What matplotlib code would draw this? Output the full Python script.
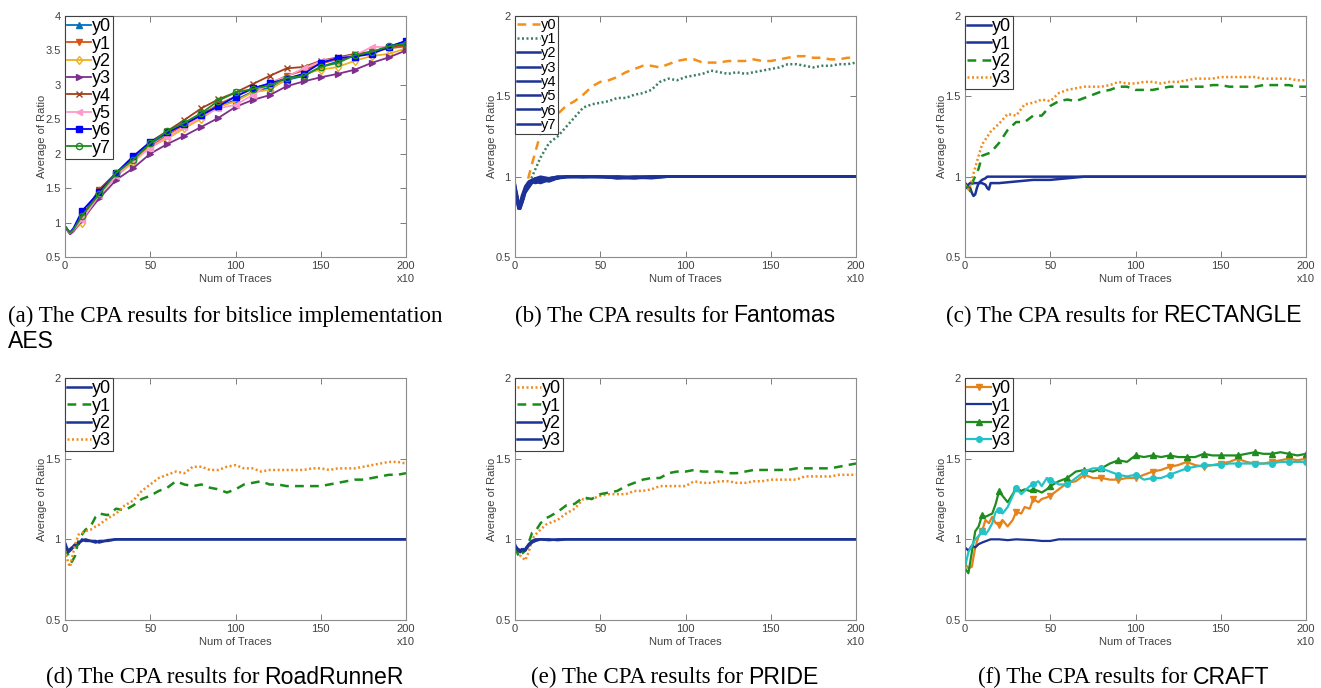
import matplotlib
matplotlib.use("Agg")
import matplotlib.pyplot as plt
from matplotlib.ticker import FormatStrFormatter

plt.rcParams["font.family"] = ["Liberation Sans", "DejaVu Sans"]

# ---- panel (a): bitslice AES ----
xa = [0, 2, 3, 5, 10, 20, 30, 40, 50, 60, 70, 80, 90, 100, 110, 120, 130, 140, 150, 160, 170, 180, 190, 200]
a_y0 = [0.95, 0.88, 0.85, 0.90, 1.11, 1.43, 1.71, 1.92, 2.14, 2.30, 2.43, 2.59, 2.68, 2.78, 2.90, 2.96, 3.07, 3.13, 3.26, 3.34, 3.43, 3.47, 3.56, 3.63]
a_y1 = [0.94, 0.87, 0.84, 0.89, 1.09, 1.47, 1.69, 1.92, 2.10, 2.27, 2.42, 2.56, 2.72, 2.83, 2.94, 3.02, 3.13, 3.21, 3.31, 3.37, 3.43, 3.48, 3.53, 3.56]
a_y2 = [0.95, 0.87, 0.84, 0.88, 1.00, 1.40, 1.67, 1.88, 2.10, 2.22, 2.37, 2.51, 2.68, 2.76, 2.89, 2.93, 3.08, 3.16, 3.22, 3.26, 3.35, 3.42, 3.45, 3.53]
a_y3 = [0.94, 0.86, 0.83, 0.87, 1.04, 1.35, 1.62, 1.79, 2.00, 2.14, 2.26, 2.39, 2.52, 2.68, 2.78, 2.85, 2.98, 3.05, 3.11, 3.16, 3.22, 3.32, 3.40, 3.50]
a_y4 = [0.95, 0.88, 0.85, 0.90, 1.08, 1.48, 1.72, 1.96, 2.17, 2.33, 2.49, 2.66, 2.79, 2.89, 3.01, 3.13, 3.24, 3.26, 3.35, 3.40, 3.45, 3.48, 3.55, 3.58]
a_y5 = [0.95, 0.87, 0.85, 0.89, 1.04, 1.40, 1.67, 1.91, 2.08, 2.25, 2.39, 2.54, 2.66, 2.71, 2.85, 3.03, 3.12, 3.24, 3.34, 3.39, 3.43, 3.55, 3.55, 3.63]
a_y6 = [0.95, 0.88, 0.86, 0.92, 1.17, 1.44, 1.72, 1.96, 2.17, 2.31, 2.43, 2.56, 2.69, 2.83, 2.95, 3.02, 3.09, 3.16, 3.32, 3.39, 3.41, 3.45, 3.55, 3.64]
a_y7 = [0.95, 0.88, 0.85, 0.90, 1.10, 1.41, 1.72, 1.91, 2.15, 2.33, 2.45, 2.59, 2.77, 2.89, 2.94, 2.99, 3.10, 3.13, 3.26, 3.32, 3.43, 3.48, 3.56, 3.60]

# ---- panel (b): Fantomas ----
xb = [0, 2, 3, 5, 8, 10, 15, 20, 25, 30, 35, 40, 45, 50, 55, 60, 65, 70, 75, 80, 85, 90, 95, 100,
      105, 110, 115, 120, 125, 130, 135, 140, 145, 150, 155, 160, 165, 170, 175, 180, 185, 190, 195, 200]
b_y0 = [0.92, 0.86, 0.82, 0.88, 1.00, 1.08, 1.27, 1.36, 1.39, 1.44, 1.47, 1.51, 1.56, 1.59, 1.60, 1.62, 1.65, 1.67, 1.69, 1.69, 1.68, 1.70,
        1.72, 1.73, 1.73, 1.71, 1.71, 1.71, 1.72, 1.72, 1.72, 1.73, 1.72, 1.72, 1.73, 1.74, 1.75, 1.75, 1.74, 1.74, 1.73, 1.73, 1.74, 1.74]
b_y1 = [0.92, 0.84, 0.81, 0.88, 0.95, 1.00, 1.12, 1.21, 1.25, 1.31, 1.37, 1.43, 1.45, 1.46, 1.47, 1.49, 1.49, 1.51, 1.52, 1.54, 1.59, 1.61,
        1.60, 1.62, 1.63, 1.64, 1.66, 1.65, 1.64, 1.65, 1.64, 1.65, 1.66, 1.67, 1.68, 1.70, 1.70, 1.69, 1.68, 1.69, 1.69, 1.70, 1.70, 1.71]
xb_blue = [0, 1, 2, 3, 4, 5, 6, 8, 10, 12, 15, 20, 25, 30, 40, 50, 60, 70, 80, 90, 100, 120, 140, 160, 180, 200]
b_y2 = [0.95, 0.90, 0.84, 0.80, 0.83, 0.87, 0.90, 0.93, 0.96, 0.97, 0.98, 0.99, 0.995, 1.0, 1.0, 1.0, 0.995, 0.995, 1.0, 1.0, 1.0, 1.0, 1.0, 1.0, 1.0, 1.0]
b_y3 = [0.93, 0.88, 0.82, 0.81, 0.85, 0.88, 0.91, 0.95, 0.97, 0.96, 0.97, 0.98, 0.99, 1.0, 1.0, 1.0, 0.99, 0.99, 0.995, 1.0, 1.0, 1.0, 1.0, 1.0, 1.0, 1.0]
b_y4 = [0.95, 0.86, 0.80, 0.82, 0.86, 0.90, 0.92, 0.96, 0.98, 0.99, 0.98, 0.97, 0.99, 0.995, 1.0, 1.0, 1.0, 0.99, 1.0, 1.0, 1.0, 1.0, 1.0, 1.0, 1.0, 1.0]
b_y5 = [0.90, 0.87, 0.85, 0.83, 0.84, 0.89, 0.93, 0.96, 0.97, 0.98, 0.99, 0.99, 1.0, 1.0, 0.995, 1.0, 1.0, 1.0, 1.0, 1.0, 1.0, 1.0, 1.0, 1.0, 1.0, 1.0]
b_y6 = [0.94, 0.89, 0.83, 0.84, 0.88, 0.91, 0.94, 0.97, 0.98, 0.97, 0.96, 0.98, 0.99, 1.0, 1.0, 0.995, 1.0, 0.995, 0.99, 1.0, 1.0, 1.0, 1.0, 1.0, 1.0, 1.0]
b_y7 = [0.92, 0.85, 0.81, 0.80, 0.83, 0.86, 0.90, 0.94, 0.97, 0.99, 1.0, 0.99, 1.0, 1.0, 1.0, 1.0, 0.99, 1.0, 1.0, 1.0, 1.0, 1.0, 1.0, 1.0, 1.0, 1.0]

# ---- panel (c): RECTANGLE ----
xc = xb
c_y2 = [0.95, 0.93, 0.91, 0.98, 1.05, 1.13, 1.15, 1.21, 1.29, 1.34, 1.34, 1.38, 1.38, 1.44, 1.47, 1.48, 1.47, 1.49, 1.51, 1.53, 1.54, 1.56,
        1.56, 1.54, 1.54, 1.54, 1.55, 1.56, 1.56, 1.56, 1.56, 1.56, 1.57, 1.57, 1.56, 1.56, 1.56, 1.56, 1.57, 1.57, 1.57, 1.57, 1.56, 1.56]
c_y3 = [0.95, 0.92, 0.94, 1.02, 1.13, 1.20, 1.28, 1.33, 1.39, 1.38, 1.45, 1.46, 1.48, 1.47, 1.52, 1.54, 1.55, 1.56, 1.56, 1.56, 1.57, 1.59,
        1.58, 1.58, 1.59, 1.59, 1.58, 1.59, 1.59, 1.60, 1.61, 1.61, 1.61, 1.62, 1.62, 1.62, 1.62, 1.62, 1.61, 1.61, 1.61, 1.61, 1.60, 1.60]
xc_blue = [0, 1, 2, 3, 4, 5, 6, 7, 8, 10, 12, 13, 14, 15, 20, 30, 40, 50, 60, 70, 80, 100, 120, 150, 200]
c_y0 = [0.96, 0.95, 0.94, 0.93, 0.90, 0.88, 0.89, 0.93, 0.96, 0.98, 0.99, 1.0, 1.0, 1.0, 1.0, 1.0, 1.0, 1.0, 1.0, 1.0, 1.0, 1.0, 1.0, 1.0, 1.0]
c_y1 = [0.96, 0.93, 0.95, 0.96, 0.96, 0.96, 0.96, 0.96, 0.96, 0.96, 0.95, 0.93, 0.92, 0.96, 0.96, 0.97, 0.98, 0.98, 0.99, 1.0, 1.0, 1.0, 1.0, 1.0, 1.0]

# ---- panel (d): RoadRunneR ----
xd = [0, 2, 3, 4, 6, 8, 10, 12, 15, 18, 20, 25, 30, 35, 40, 45, 50, 55, 60, 65, 70, 75, 80, 85, 90, 95, 100,
      105, 110, 115, 120, 125, 130, 135, 140, 145, 150, 155, 160, 165, 170, 175, 180, 185, 190, 195, 200]
d_y1 = [0.95, 0.90, 0.88, 0.86, 0.90, 1.00, 1.03, 1.06, 1.08, 1.14, 1.16, 1.15, 1.19, 1.18, 1.21, 1.25, 1.27, 1.30, 1.32, 1.36, 1.34, 1.33, 1.34, 1.32,
        1.31, 1.29, 1.31, 1.34, 1.35, 1.36, 1.34, 1.34, 1.33, 1.33, 1.33, 1.33, 1.33, 1.34, 1.35, 1.36, 1.37, 1.37, 1.38, 1.39, 1.40, 1.40, 1.41]
d_y3 = [0.93, 0.85, 0.83, 0.88, 0.97, 1.03, 1.04, 1.05, 1.06, 1.08, 1.09, 1.13, 1.16, 1.21, 1.24, 1.30, 1.34, 1.38, 1.40, 1.42, 1.41, 1.45, 1.45, 1.43,
        1.43, 1.45, 1.46, 1.44, 1.44, 1.42, 1.43, 1.43, 1.43, 1.43, 1.43, 1.44, 1.44, 1.43, 1.44, 1.44, 1.44, 1.45, 1.46, 1.47, 1.48, 1.48, 1.47]
xd_blue = [0, 1, 2, 3, 4, 5, 6, 8, 10, 12, 15, 18, 20, 25, 30, 50, 100, 150, 200]
d_y0 = [0.98, 0.95, 0.93, 0.94, 0.95, 0.95, 0.96, 0.97, 1.0, 0.99, 0.99, 0.98, 0.99, 0.99, 1.0, 1.0, 1.0, 1.0, 1.0]
d_y2 = [0.97, 0.94, 0.92, 0.93, 0.94, 0.96, 0.97, 0.98, 0.99, 1.0, 0.99, 0.99, 0.98, 0.995, 1.0, 1.0, 1.0, 1.0, 1.0]

# ---- panel (e): PRIDE ----
xe = xd
e_y0 = [0.95, 0.92, 0.90, 0.89, 0.87, 0.92, 1.00, 1.03, 1.06, 1.09, 1.10, 1.12, 1.16, 1.19, 1.25, 1.25, 1.27, 1.28, 1.28, 1.28, 1.30, 1.30, 1.31, 1.33,
        1.33, 1.33, 1.33, 1.36, 1.35, 1.35, 1.36, 1.36, 1.35, 1.35, 1.36, 1.36, 1.37, 1.37, 1.37, 1.37, 1.39, 1.39, 1.39, 1.39, 1.40, 1.40, 1.40]
e_y1 = [0.95, 0.90, 0.89, 0.91, 0.93, 0.98, 1.04, 1.05, 1.10, 1.13, 1.14, 1.17, 1.21, 1.22, 1.26, 1.25, 1.28, 1.29, 1.30, 1.33, 1.35, 1.37, 1.38, 1.38,
        1.41, 1.42, 1.42, 1.43, 1.42, 1.42, 1.42, 1.41, 1.41, 1.42, 1.43, 1.43, 1.43, 1.43, 1.43, 1.44, 1.44, 1.44, 1.44, 1.44, 1.45, 1.46, 1.47]
xe_blue = [0, 1, 2, 3, 4, 5, 6, 8, 10, 12, 15, 20, 25, 30, 50, 100, 150, 200]
e_y2 = [0.96, 0.95, 0.93, 0.92, 0.93, 0.94, 0.93, 0.96, 0.98, 0.99, 1.0, 1.0, 0.995, 1.0, 1.0, 1.0, 1.0, 1.0]
e_y3 = [0.97, 0.94, 0.94, 0.93, 0.94, 0.93, 0.94, 0.97, 0.99, 1.0, 1.0, 0.995, 1.0, 1.0, 1.0, 1.0, 1.0, 1.0]

# ---- panel (f): CRAFT ----
xf = [0, 2, 4, 6, 8, 10, 12, 14, 16, 18, 20, 22, 25, 28, 30, 33, 35, 38, 40, 43, 45, 48, 50,
      55, 60, 65, 70, 75, 80, 85, 90, 95, 100, 105, 110, 115, 120, 125, 130, 135, 140, 145, 150,
      155, 160, 165, 170, 175, 180, 185, 190, 195, 200]
f_y0 = [0.85, 0.82, 0.83, 0.95, 1.02, 1.05, 1.12, 1.10, 1.14, 1.10, 1.09, 1.12, 1.08, 1.12, 1.17, 1.16, 1.20, 1.19, 1.25, 1.23, 1.25, 1.26, 1.27,
        1.31, 1.35, 1.36, 1.40, 1.38, 1.38, 1.37, 1.37, 1.38, 1.38, 1.40, 1.42, 1.43, 1.45, 1.46, 1.48, 1.46, 1.45, 1.46, 1.47,
        1.48, 1.50, 1.48, 1.47, 1.47, 1.48, 1.49, 1.50, 1.49, 1.50]
f_y2 = [0.82, 0.79, 0.92, 1.05, 1.08, 1.15, 1.14, 1.15, 1.16, 1.22, 1.30, 1.27, 1.23, 1.28, 1.32, 1.30, 1.31, 1.30, 1.31, 1.30, 1.29, 1.31, 1.33,
        1.36, 1.38, 1.42, 1.43, 1.42, 1.44, 1.47, 1.49, 1.48, 1.52, 1.51, 1.52, 1.51, 1.52, 1.51, 1.51, 1.51, 1.53, 1.52, 1.52,
        1.52, 1.52, 1.53, 1.54, 1.53, 1.53, 1.54, 1.53, 1.52, 1.53]
f_y3 = [0.83, 0.92, 0.96, 1.00, 1.02, 1.05, 1.03, 1.06, 1.10, 1.17, 1.18, 1.16, 1.20, 1.27, 1.32, 1.28, 1.30, 1.33, 1.34, 1.36, 1.33, 1.38, 1.37,
        1.34, 1.34, 1.38, 1.42, 1.44, 1.44, 1.42, 1.40, 1.39, 1.40, 1.37, 1.38, 1.38, 1.40, 1.42, 1.44, 1.45, 1.46, 1.46, 1.46,
        1.47, 1.47, 1.47, 1.47, 1.47, 1.47, 1.48, 1.48, 1.48, 1.48]
xf_blue = [0, 2, 4, 6, 8, 10, 15, 20, 25, 30, 40, 45, 50, 55, 60, 100, 150, 200]
f_y1 = [0.95, 0.93, 0.96, 0.95, 0.97, 0.98, 1.0, 1.0, 0.995, 1.0, 0.995, 0.99, 0.99, 1.0, 1.0, 1.0, 1.0, 1.0]

W, H = 1321, 688
BLUE = "#1c3296"
ORANGE = "#f08c1e"
GREEN = "#1a8c1a"
SERIF = ["Liberation Serif", "DejaVu Serif"]
SANS = ["Liberation Sans", "DejaVu Sans"]
CAP_SIZE = 16.6


def tens(xs):
    # indices of points sitting on multiples of 10 (where MATLAB put the markers)
    return [i for i, v in enumerate(xs) if v > 0 and v % 10 == 0]


def style_axes(ax, ymax, ystep):
    ax.set_xlim(0, 200)
    ax.set_ylim(0.5, ymax)
    ax.set_xticks([0, 50, 100, 150, 200])
    n = int(round((ymax - 0.5) / ystep)) + 1
    ax.set_yticks([0.5 + i * ystep for i in range(n)])
    ax.yaxis.set_major_formatter(FormatStrFormatter("%g"))
    ax.tick_params(direction="in", length=4, width=0.6, top=True, right=True,
                   labelsize=8, labelcolor="#404040", color="#666666", pad=3)
    for s in ax.spines.values():
        s.set_color("#8c8c8c")
        s.set_linewidth(0.8)
    ax.set_xlabel("Num of Traces", fontsize=8, color="#404040", labelpad=2)
    ax.set_ylabel("Average of Ratio", fontsize=8, color="#404040", labelpad=-1)
    ax.text(1.0, -0.09, "x10", transform=ax.transAxes, fontsize=8,
            color="#404040", ha="center", va="center")


def add_legend(ax, size, hl):
    leg = ax.legend(loc="upper left", borderaxespad=0, fontsize=size, handlelength=hl,
                    handletextpad=0.05, borderpad=0.12, labelspacing=0.02,
                    fancybox=False, framealpha=1, edgecolor="#404040")
    leg.get_frame().set_linewidth(0.8)


def caption(fig, x_px, y_px, serif_txt, sans_txt, center=True):
    r = fig.canvas.get_renderer()
    t1 = fig.text(0, 0, serif_txt, family=SERIF, fontsize=CAP_SIZE, va="center")
    t2 = fig.text(0, 0, sans_txt, family=SANS, fontsize=CAP_SIZE, va="center")
    w1 = t1.get_window_extent(r).width
    w2 = t2.get_window_extent(r).width
    gap = 5
    x0 = x_px - (w1 + gap + w2) / 2 if center else x_px
    t1.set_position((x0 / W, 1 - y_px / H))
    t2.set_position(((x0 + w1 + gap) / W, 1 - y_px / H))


fig = plt.figure(figsize=(W / 100, H / 100), dpi=100)
lefts = [65, 515, 965]
aw = 341
axs = []
for top, bottom in [(16, 257), (378, 620)]:
    for lx in lefts:
        axs.append(fig.add_axes([lx / W, 1 - bottom / H, aw / W, (bottom - top) / H]))
ax_a, ax_b, ax_c, ax_d, ax_e, ax_f = axs

# (a)
a_series = [a_y0, a_y1, a_y2, a_y3, a_y4, a_y5, a_y6, a_y7]
a_colors = ["#0072BD", "#D95319", "#EDB120", "#7E2F8E", "#A0401A", "#FF99CC", "#0000FF", "#1E8C1E"]
a_marks = ["^", "v", "d", ">", "x", "<", "s", "o"]
a_fill = [None, None, "none", None, None, None, None, "none"]
for i, ys in enumerate(a_series):
    kw = {} if a_fill[i] is None else {"mfc": a_fill[i]}
    ax_a.plot(xa, ys, color=a_colors[i], lw=1.3, marker=a_marks[i], ms=4.5,
              markevery=tens(xa), label=f"y{i}", **kw)
style_axes(ax_a, 4, 0.5)
add_legend(ax_a, 13, 1.3)

# (b)
ax_b.plot(xb, b_y0, color="#f39019", lw=1.8, ls=(0, (3.5, 2.5)), label="y0")
ax_b.plot(xb, b_y1, color="#3b7f5f", lw=1.8, ls=(0, (0.8, 1.0)), label="y1")
for i, ys in enumerate([b_y2, b_y3, b_y4, b_y5, b_y6, b_y7]):
    ax_b.plot(xb_blue, ys, color=BLUE, lw=1.8, label=f"y{i + 2}")
style_axes(ax_b, 2, 0.5)
add_legend(ax_b, 10.5, 1.6)

# (c)
ax_c.plot(xc_blue, c_y0, color=BLUE, lw=1.8, label="y0")
ax_c.plot(xc_blue, c_y1, color=BLUE, lw=1.8, label="y1")
ax_c.plot(xc, c_y2, color=GREEN, lw=1.8, ls=(0, (3.5, 2.5)), label="y2")
ax_c.plot(xc, c_y3, color=ORANGE, lw=1.8, ls=(0, (0.8, 1.0)), label="y3")
style_axes(ax_c, 2, 0.5)
add_legend(ax_c, 13, 1.3)

# (d)
ax_d.plot(xd_blue, d_y0, color=BLUE, lw=1.8, label="y0")
ax_d.plot(xd, d_y1, color=GREEN, lw=1.8, ls=(0, (3.5, 2.5)), label="y1")
ax_d.plot(xd_blue, d_y2, color=BLUE, lw=1.8, label="y2")
ax_d.plot(xd, d_y3, color=ORANGE, lw=1.8, ls=(0, (0.8, 1.0)), label="y3")
style_axes(ax_d, 2, 0.5)
add_legend(ax_d, 13, 1.3)

# (e)
ax_e.plot(xe, e_y0, color=ORANGE, lw=1.8, ls=(0, (0.8, 1.0)), label="y0")
ax_e.plot(xe, e_y1, color=GREEN, lw=1.8, ls=(0, (3.5, 2.5)), label="y1")
ax_e.plot(xe_blue, e_y2, color=BLUE, lw=1.8, label="y2")
ax_e.plot(xe_blue, e_y3, color=BLUE, lw=1.8, label="y3")
style_axes(ax_e, 2, 0.5)
add_legend(ax_e, 13, 1.3)

# (f)
ax_f.plot(xf, f_y0, color="#e5821a", lw=1.6, marker="v", ms=5, markevery=tens(xf), label="y0")
ax_f.plot(xf_blue, f_y1, color=BLUE, lw=1.6, label="y1")
ax_f.plot(xf, f_y2, color="#1e8c1e", lw=1.6, marker="^", ms=5, markevery=tens(xf), label="y2")
ax_f.plot(xf, f_y3, color="#22c3c8", lw=1.6, marker="o", ms=4, markevery=tens(xf), label="y3")
style_axes(ax_f, 2, 0.5)
add_legend(ax_f, 13, 1.3)

# captions (serif text + sans-serif cipher name, as in the paper)
caption(fig, 8, 316, "(a) The CPA results for bitslice implementation", "", center=False)
fig.text(8 / W, 1 - 341 / H, "AES", family=SANS, fontsize=CAP_SIZE, va="center")
caption(fig, 675, 316, "(b) The CPA results for", "Fantomas")
caption(fig, 1124, 316, "(c) The CPA results for", "RECTANGLE")
caption(fig, 225, 677, "(d) The CPA results for", "RoadRunneR")
caption(fig, 675, 677, "(e) The CPA results for", "PRIDE")
caption(fig, 1124, 677, "(f) The CPA results for", "CRAFT")

fig.savefig("out.png", dpi=100)
